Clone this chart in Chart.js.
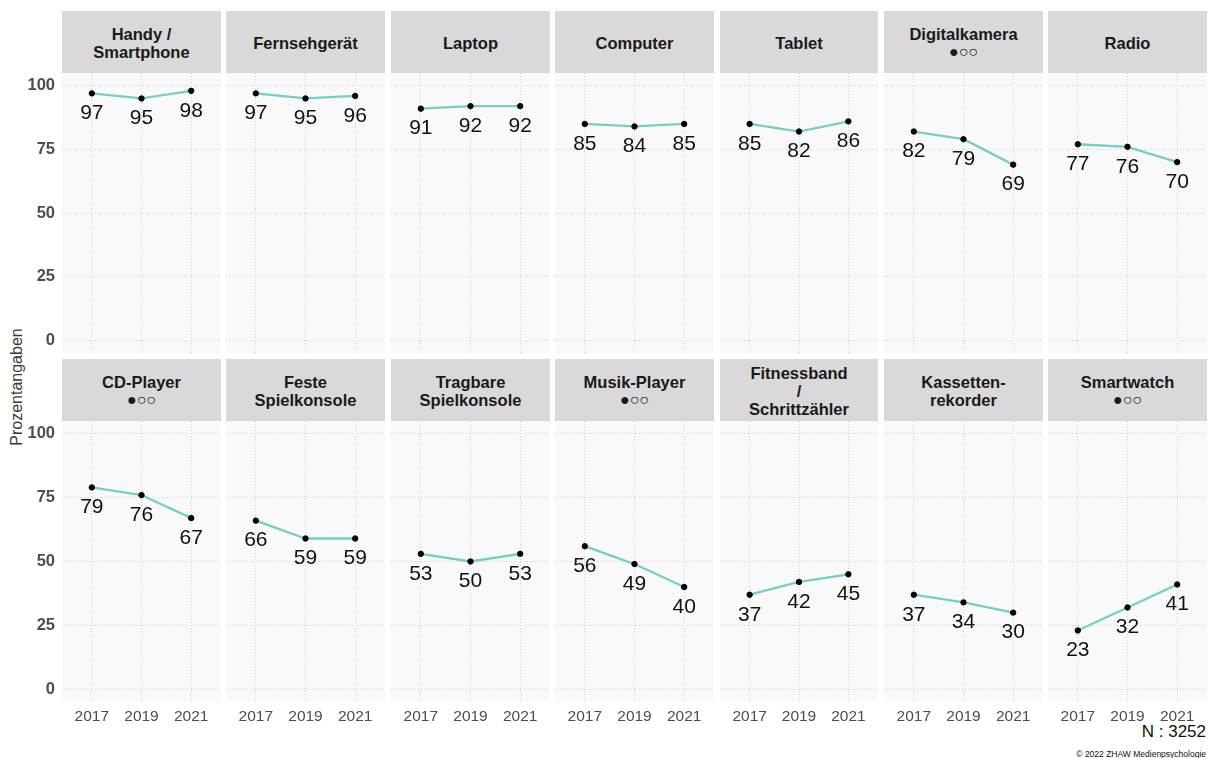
<!DOCTYPE html>
<html>
<head>
<meta charset="utf-8">
<script src="https://cdn.jsdelivr.net/npm/chart.js@4"></script>
<style>
  body { margin: 0; background: #fff; font-family: "Liberation Sans", Arial, sans-serif; }
  #wrap { position: relative; width: 1215px; height: 758px; overflow: hidden; }
  .strip {
    position: absolute; background: #d9d9d9; color: #1a1a1a;
    font: bold 16.5px "Liberation Sans", Arial, sans-serif; line-height: 18px;
    display: flex; flex-direction: column; justify-content: center; align-items: center;
    text-align: center; padding-top: 3px; box-sizing: border-box;
  }
  .strip .dots { font-size: 16px; font-weight: normal; line-height: 18px; }
  canvas { position: absolute; }
  .ytitle {
    position: absolute; left: 17px; top: 387px; transform: translate(-50%, -50%) rotate(-90deg);
    font-size: 16px; color: #3a3a3a; white-space: nowrap;
  }
  .note { position: absolute; right: 9px; color: #111; white-space: nowrap; }
</style>
</head>
<body>
<div id="wrap">
  <div class="ytitle">Prozentangaben</div>
  <div class="note" style="top:722px; font-size:17px;">N : 3252</div>
  <div class="note" style="top:749px; font-size:8.5px;">© 2022 ZHAW Medienpsychologie</div>
</div>
<script>
// data
var years = [2017, 2019, 2021];
var devices = ['Handy /\nSmartphone', 'Fernsehgerät', 'Laptop', 'Computer', 'Tablet', 'Digitalkamera', 'Radio',
               'CD-Player', 'Feste\nSpielkonsole', 'Tragbare\nSpielkonsole', 'Musik-Player', 'Fitnessband\n/\nSchrittzähler', 'Kassetten-\nrekorder', 'Smartwatch'];
var share2017 = [97, 97, 91, 85, 85, 82, 77, 79, 66, 53, 56, 37, 37, 23];
var share2019 = [95, 95, 92, 84, 82, 79, 76, 76, 59, 50, 49, 42, 34, 32];
var share2021 = [98, 96, 92, 85, 86, 69, 70, 67, 59, 53, 40, 45, 30, 41];
var marked = ['Digitalkamera', 'CD-Player', 'Musik-Player', 'Smartwatch'];
var yTicks = [0, 25, 50, 75, 100];

var lineColor = '#76cec5';
var gridColor = '#cfcfcf';
var tickColor = '#4d4d4d';

// layout of the facet grid
var colX0 = 62, pitch = 164.4, panelW = 158.7;
var rows = [
    {stripTop: 11, stripBottom: 72.7, plotBottom: 353.3},
    {stripTop: 359, stripBottom: 420.7, plotBottom: 701.7}
];
var yAxisW = 62, xAxisH = 30;

var wrap = document.getElementById('wrap');

// panel background
var panelBg = {
    id: 'panelBg',
    beforeDraw: function(chart) {
        var a = chart.chartArea, ctx = chart.ctx;
        ctx.save();
        ctx.fillStyle = '#f9f9f9';
        ctx.fillRect(a.left, a.top, a.right - a.left, a.bottom - a.top);
        ctx.restore();
    }
};

// value labels under the points
var valueLabels = {
    id: 'valueLabels',
    afterDatasetsDraw: function(chart) {
        var ctx = chart.ctx;
        var meta = chart.getDatasetMeta(0);
        var data = chart.data.datasets[0].data;
        ctx.save();
        ctx.font = '21px "Liberation Sans", Arial, sans-serif';
        ctx.fillStyle = '#111';
        ctx.textAlign = 'center';
        ctx.textBaseline = 'middle';
        meta.data.forEach(function(pt, i) {
            ctx.fillText(String(Math.round(data[i].y)), pt.x, pt.y + 20);
        });
        ctx.restore();
    }
};

devices.forEach(function(name, i) {
    var r = Math.floor(i / 7), c = i % 7;
    var row = rows[r];
    var left = Math.round(colX0 + c * pitch);
    var right = Math.round(colX0 + c * pitch + panelW);

    // strip header
    var strip = document.createElement('div');
    strip.className = 'strip';
    strip.style.left = left + 'px';
    strip.style.top = row.stripTop + 'px';
    strip.style.width = (right - left) + 'px';
    strip.style.height = (row.stripBottom - row.stripTop) + 'px';
    name.split('\n').forEach(function(line) {
        var d = document.createElement('div');
        d.textContent = line;
        strip.appendChild(d);
    });
    if (marked.includes(name)) {
        var dots = document.createElement('div');
        dots.className = 'dots';
        dots.textContent = '●○○';
        strip.appendChild(dots);
    }
    wrap.appendChild(strip);

    // chart canvas
    var extraL = c === 0 ? yAxisW : 0;
    var extraB = r === 1 ? xAxisH : 0;
    var top = Math.round(row.stripBottom);
    var canvas = document.createElement('canvas');
    canvas.width = right - left + extraL;
    canvas.height = Math.round(row.plotBottom) - top + extraB;
    canvas.style.left = (left - extraL) + 'px';
    canvas.style.top = top + 'px';
    canvas.style.width = canvas.width + 'px';
    canvas.style.height = canvas.height + 'px';
    wrap.appendChild(canvas);

    var points = [
        {x: years[0], y: share2017[i]},
        {x: years[1], y: share2019[i]},
        {x: years[2], y: share2021[i]}
    ];

    new Chart(canvas, {
        type: 'line',
        data: {
            datasets: [{
                data: points,
                borderColor: lineColor,
                borderWidth: 2.3,
                pointRadius: 2.7,
                pointBackgroundColor: '#000',
                pointBorderColor: '#000',
                pointBorderWidth: 1,
                tension: 0,
                clip: false
            }]
        },
        options: {
            responsive: false,
            animation: false,
            devicePixelRatio: 1,
            layout: {padding: 0, autoPadding: false},
            plugins: {legend: {display: false}, tooltip: {enabled: false}},
            scales: {
                x: {
                    type: 'linear',
                    min: 2015.8,
                    max: 2022.2,
                    afterBuildTicks: function(s) { s.ticks = years.map(function(v) { return {value: v}; }); },
                    afterFit: function(s) {
                        s.height = extraB;
                        s.paddingLeft = 0; s.paddingRight = 0; s.paddingTop = 0; s.paddingBottom = 0;
                    },
                    grid: {color: gridColor, lineWidth: 1, drawTicks: false},
                    border: {display: false, dash: [1, 2]},
                    ticks: {
                        display: r === 1,
                        padding: 5,
                        color: tickColor,
                        font: {size: 15.5, family: '"Liberation Sans", Arial, sans-serif'},
                        callback: function(v) { return String(v); }
                    }
                },
                y: {
                    min: -5,
                    max: 105,
                    afterBuildTicks: function(s) { s.ticks = yTicks.map(function(v) { return {value: v}; }); },
                    afterFit: function(s) {
                        s.width = extraL;
                        s.paddingLeft = 0; s.paddingRight = 0; s.paddingTop = 0; s.paddingBottom = 0;
                    },
                    grid: {color: gridColor, lineWidth: 1, drawTicks: false},
                    border: {display: false, dash: [1, 2]},
                    ticks: {
                        display: c === 0,
                        padding: 7,
                        color: tickColor,
                        font: {size: 16.5, weight: 'bold', family: '"Liberation Sans", Arial, sans-serif'}
                    }
                }
            }
        },
        plugins: [panelBg, valueLabels]
    });
});
</script>
</body>
</html>
